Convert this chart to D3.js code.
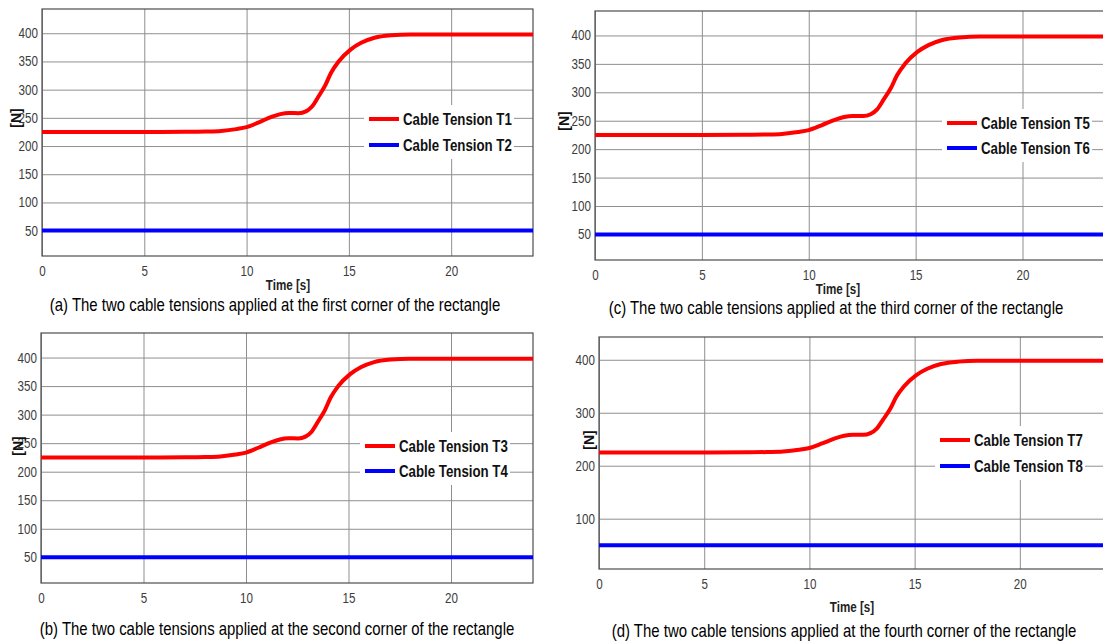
<!DOCTYPE html>
<html>
<head>
<meta charset="utf-8">
<script src="https://cdn.jsdelivr.net/npm/d3@7"></script>
<style>
  body { margin: 0; background: #fff; }
  text { font-family: 'Liberation Sans', Arial, sans-serif; }
</style>
</head>
<body>
<script>
    const chart_width = 1103;
    const chart_height = 644;
    const squeeze = 0.83; // the source figure uses a narrow face

    // data (time in s, tension in N)
    const time_s = [0, 5, 7, 8, 8.75, 9.5, 10, 10.6, 11.25, 11.65, 12.06, 12.55, 12.9, 13.2, 13.5, 13.85, 14.13, 14.5, 15.08, 15.6, 16.25, 17.07, 18, 24];
    const tension_outer = [225, 225, 225.3, 225.8, 226.8, 230, 233.5, 242, 252, 256.5, 258.5, 258.3, 261.5, 270, 287, 308, 330, 350, 371, 383, 392, 396.5, 398, 398];
    const time_inner = [0, 24];
    const tension_inner = [50, 50];

    const x_ticks = [0, 5, 10, 15, 20];
    const y_ticks_fine = [50, 100, 150, 200, 250, 300, 350, 400];
    const y_ticks_coarse = [100, 200, 300, 400];
    const x_domain = [0, 24];
    const y_domain = [5, 443];

    const legend_labels = [
      ['Cable Tension T1', 'Cable Tension T2'],
      ['Cable Tension T5', 'Cable Tension T6'],
      ['Cable Tension T3', 'Cable Tension T4'],
      ['Cable Tension T7', 'Cable Tension T8']
    ];
    const captions = [
      '(a) The two cable tensions applied at the first corner of the rectangle',
      '(c) The two cable tensions applied at the third corner of the rectangle',
      '(b) The two cable tensions applied at the second corner of the rectangle',
      '(d) The two cable tensions applied at the fourth corner of the rectangle'
    ];

    // layout of the four panels
    const panels = [
      {left: 42, right: 533, top: 9, bottom: 256, yTicks: y_ticks_fine, xLabel: [288, 290], yLabel: [16, 118],
       legend: {x: 369, y: 119, gap: 26}, caption: [275, 311]},
      {left: 595, right: 1108, top: 11, bottom: 260, yTicks: y_ticks_fine, xLabel: [838, 294], yLabel: [564, 121],
       legend: {x: 947, y: 123, gap: 25}, caption: [836, 314]},
      {left: 41, right: 533, top: 333, bottom: 583, yTicks: y_ticks_fine, xLabel: null, yLabel: [18, 446],
       legend: {x: 365, y: 446, gap: 25}, caption: [277, 635]},
      {left: 599, right: 1104, top: 337, bottom: 569, yTicks: y_ticks_coarse, xLabel: [852, 612], yLabel: [589, 440],
       legend: {x: 940, y: 440, gap: 26}, caption: [844, 637]}
    ];

    const svg = d3.select('body').append('svg')
        .attr('width', chart_width).attr('height', chart_height);

    // text placed at (px, py), squeezed horizontally
    function narrowText(parent, px, py, str) {
      return parent.append('text')
          .attr('transform', `translate(${px},${py}) scale(${squeeze},1)`)
          .text(str);
    }

    panels.forEach((p, i) => {
      const x = d3.scaleLinear().domain(x_domain).range([p.left, p.right]);
      const y = d3.scaleLinear().domain(y_domain).range([p.bottom, p.top]);
      const g = svg.append('g');

      // grid
      g.append('g')
          .attr('transform', `translate(0,${p.bottom})`)
          .call(d3.axisBottom(x).tickValues(x_ticks).tickSize(-(p.bottom - p.top)).tickFormat(''))
          .call(a => a.select('.domain').remove())
          .call(a => a.selectAll('line').attr('stroke', '#8f8f8f'));
      g.append('g')
          .attr('transform', `translate(${p.left},0)`)
          .call(d3.axisLeft(y).tickValues(p.yTicks).tickSize(-(p.right - p.left)).tickFormat(''))
          .call(a => a.select('.domain').remove())
          .call(a => a.selectAll('line').attr('stroke', '#8f8f8f'));

      // tick labels
      g.append('g')
          .attr('transform', `translate(0,${p.bottom})`)
          .call(d3.axisBottom(x).tickValues(x_ticks).tickSize(0).tickPadding(10))
          .call(a => a.select('.domain').remove())
          .call(a => a.selectAll('text').attr('font-size', 14).attr('fill', '#3c3c3c')
              .attr('font-family', "'Liberation Sans', Arial")
              .attr('transform', `scale(${squeeze},1)`));
      g.append('g')
          .attr('transform', `translate(${p.left},0)`)
          .call(d3.axisLeft(y).tickValues(p.yTicks).tickSize(0).tickPadding(5))
          .call(a => a.select('.domain').remove())
          .call(a => a.selectAll('text').attr('font-size', 14).attr('fill', '#3c3c3c')
              .attr('font-family', "'Liberation Sans', Arial")
              .attr('transform', `scale(${squeeze},1)`));

      // frame
      g.append('rect')
          .attr('x', p.left).attr('y', p.top)
          .attr('width', p.right - p.left).attr('height', p.bottom - p.top)
          .attr('fill', 'none').attr('stroke', '#4d4d4d').attr('stroke-width', 1.2);

      const line = d3.line().x(d => x(d[0])).y(d => y(d[1])).curve(d3.curveMonotoneX);
      g.append('path')
          .datum(d3.zip(time_inner, tension_inner))
          .attr('d', line)
          .attr('fill', 'none').attr('stroke', '#0000ff').attr('stroke-width', 4);
      g.append('path')
          .datum(d3.zip(time_s, tension_outer))
          .attr('d', line)
          .attr('fill', 'none').attr('stroke', '#ff0000').attr('stroke-width', 4);

      // legend
      const lg = g.append('g');
      lg.append('rect')
          .attr('x', p.legend.x - 5).attr('y', p.legend.y - 14)
          .attr('width', 150).attr('height', p.legend.gap + 28)
          .attr('fill', '#fff');
      ['#ff0000', '#0000ff'].forEach((c, k) => {
        const ly = p.legend.y + k * p.legend.gap;
        lg.append('line')
            .attr('x1', p.legend.x).attr('x2', p.legend.x + 30)
            .attr('y1', ly).attr('y2', ly)
            .attr('stroke', c).attr('stroke-width', 4);
        narrowText(lg, p.legend.x + 34, ly + 6, legend_labels[i][k])
            .attr('font-size', 16).attr('font-weight', 'bold').attr('fill', '#111');
      });

      // axis titles
      if (p.xLabel) {
        narrowText(g, p.xLabel[0], p.xLabel[1], 'Time [s]')
            .attr('text-anchor', 'middle')
            .attr('font-size', 14).attr('font-weight', 'bold').attr('fill', '#222');
      }
      g.append('text')
          .attr('transform', `translate(${p.yLabel[0] + 5},${p.yLabel[1]}) rotate(-90)`)
          .attr('text-anchor', 'middle')
          .attr('font-size', 14).attr('font-weight', 'bold').attr('fill', '#111')
          .text('[N]');

      // caption
      narrowText(g, p.caption[0], p.caption[1], captions[i])
          .attr('text-anchor', 'middle')
          .attr('font-size', 18).attr('fill', '#000');
    });
</script>
</body>
</html>
